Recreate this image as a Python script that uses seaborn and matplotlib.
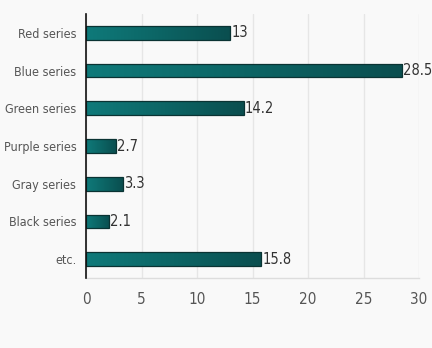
import numpy as np
import pandas as pd
import matplotlib
matplotlib.use("Agg")
import matplotlib.pyplot as plt
import seaborn as sns
from matplotlib.colors import LinearSegmentedColormap

categories = ["Red series", "Blue series", "Green series", "Purple series",
              "Gray series", "Black series", "etc."]
values = [13, 28.5, 14.2, 2.7, 3.3, 2.1, 15.8]
x_ticks = [0, 5, 10, 15, 20, 25, 30]

df = pd.DataFrame({"category": categories, "value": values})

sns.set_theme(style="white")
plt.rcParams["font.family"] = ["DejaVu Sans"]
plt.rcParams["font.stretch"] = "condensed"

bg = "#f9f9f9"
fig = plt.figure(figsize=(4.32, 3.48), dpi=100, facecolor=bg)
ax = fig.add_axes([86 / 432, 1 - 278 / 348, (419 - 86) / 432, (278 - 14) / 348])
ax.set_facecolor(bg)

sns.barplot(data=df, x="value", y="category", orient="h", ax=ax,
            color="#0b5f60", width=0.36, edgecolor="#0a3333", linewidth=0.9,
            zorder=3)

# horizontal gradient fill on each bar, outline kept on top
cmap = LinearSegmentedColormap.from_list("teal", ["#0f7a7a", "#0c6565", "#0a4e4f"])
grad = np.linspace(0, 1, 256).reshape(1, -1)
for patch in ax.patches:
    x0, y0 = patch.get_x(), patch.get_y()
    w, h = patch.get_width(), patch.get_height()
    im = ax.imshow(grad, cmap=cmap, aspect="auto",
                   extent=[x0, x0 + w, y0 + h, y0], zorder=3.5,
                   interpolation="bicubic")
    im.set_clip_path(patch)
    patch.set_facecolor("none")
    patch.set_zorder(4)

for i, v in enumerate(values):
    ax.text(v + 0.1, i, f"{v:g}", va="center", ha="left",
            fontsize=10.5, color="#333333", zorder=5)

ax.set_xlim(0, 30)
ax.set_ylim(6.5, -0.5)
ax.set_xticks(x_ticks)
ax.set_xticklabels([str(t) for t in x_ticks])
ax.set_xlabel("")
ax.set_ylabel("")
ax.grid(axis="x", color="#e6e6e6", linewidth=1, zorder=0)
ax.set_axisbelow(True)

for s in ["top", "right"]:
    ax.spines[s].set_visible(False)
ax.spines["left"].set_color("#111111")
ax.spines["left"].set_linewidth(1.2)
ax.spines["left"].set_zorder(6)
ax.spines["bottom"].set_color("#dddddd")
ax.spines["bottom"].set_linewidth(1)

ax.tick_params(axis="x", length=0, pad=10, labelsize=11, labelcolor="#555555")
ax.tick_params(axis="y", length=0, pad=7, labelsize=9, labelcolor="#555555")

fig.savefig("out.png", dpi=100, facecolor=bg)
